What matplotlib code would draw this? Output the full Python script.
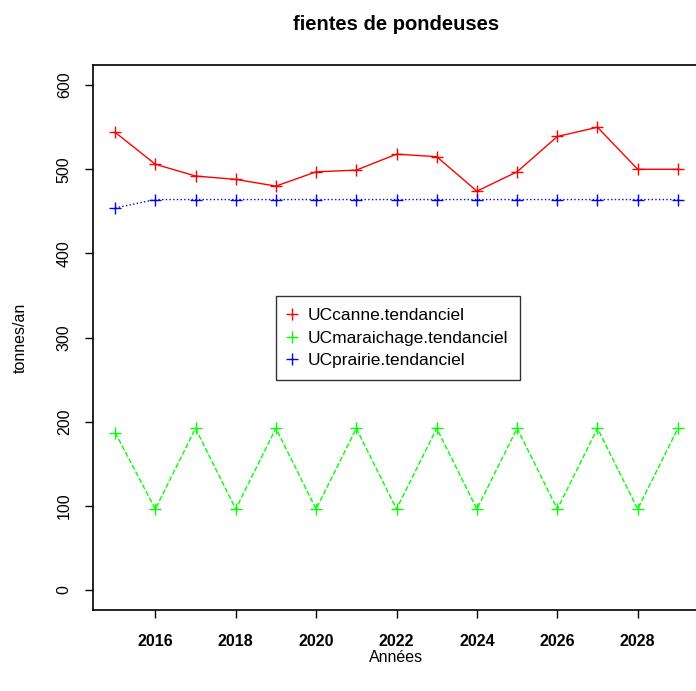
import matplotlib

matplotlib.use("Agg", force=True)
import matplotlib.pyplot as plt
from matplotlib.lines import Line2D

plt.rcParams["font.family"] = ["Liberation Sans", "DejaVu Sans"]

# data
annees = list(range(2015, 2030))
canne = [544, 506, 492, 488, 480, 497, 499, 518, 515, 474, 497, 539, 550, 500, 500]
maraichage = [187, 96, 192, 96, 192, 96, 192, 96, 192, 96, 192, 96, 192, 96, 192]
prairie = [454, 464, 464, 464, 464, 464, 464, 464, 464, 464, 464, 464, 464, 464, 464]
noms = ["UCcanne.tendanciel", "UCmaraichage.tendanciel", "UCprairie.tendanciel"]
couleurs = ["#ff0000", "#00ff00", "#0000ff"]
styles = ["-", "--", ":"]
x_ticks = list(range(2016, 2029, 2))
y_ticks = [0, 100, 200, 300, 400, 500, 600]

W, H = 696, 691
fig = plt.figure(figsize=(W / 100, H / 100), dpi=100)
ax = fig.add_axes([92.6 / W, (H - 610) / H, 607.8 / W, 545 / H])

for serie, c, ls in zip([canne, maraichage, prairie], couleurs, styles):
    ax.plot(annees, serie, color=c, linestyle=ls, linewidth=1,
            marker="+", markersize=9, markeredgewidth=1)

ax.set_xlim(2014.44, 2029.56)
ax.set_ylim(-24, 624)
ax.set_xticks(x_ticks)
ax.set_yticks(y_ticks)
ax.set_xticklabels([str(t) for t in x_ticks], fontweight="bold", fontsize=11.5)
ax.set_yticklabels([str(t) for t in y_ticks], rotation=90, va="center", fontsize=11.5)
ax.tick_params(axis="x", direction="out", length=6, width=1, pad=11)
ax.tick_params(axis="y", direction="out", length=6, width=1, pad=9)
for s in ax.spines.values():
    s.set_linewidth(1.2)

fig.text(396 / W, 1 - 24 / H, "fientes de pondeuses", ha="center", va="center",
         fontsize=14.5, fontweight="bold")
fig.text(396.5 / W, 1 - 657 / H, "Années", ha="center", va="center", fontsize=11.5)
fig.text(20 / W, 1 - 337.5 / H, "tonnes/an", ha="center", va="center",
         rotation=90, fontsize=11.5)

handles = [Line2D([], [], color=c, linestyle="none", marker="+", markersize=9,
                  markeredgewidth=1) for c in couleurs]
leg = fig.legend(handles, noms, loc="upper left",
                 bbox_to_anchor=(276 / W, 1 - 296 / H), fontsize=12.5,
                 frameon=True, fancybox=False, borderpad=0.7, handlelength=0.5,
                 handletextpad=0.6, labelspacing=0.42, borderaxespad=0)
leg.get_frame().set_edgecolor("black")
leg.get_frame().set_linewidth(1)

fig.savefig("out.png", dpi=100, facecolor="white")
